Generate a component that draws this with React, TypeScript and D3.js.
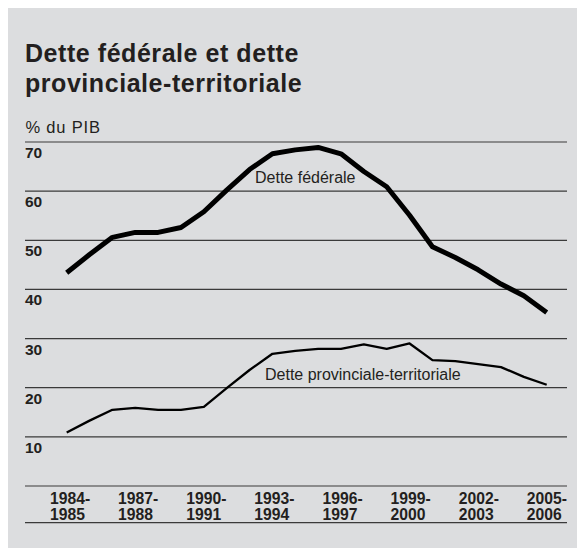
import React from "react";
import * as d3 from "d3";

const years = [
  "1984-1985","1985-1986","1986-1987","1987-1988","1988-1989","1989-1990","1990-1991",
  "1991-1992","1992-1993","1993-1994","1994-1995","1995-1996","1996-1997","1997-1998",
  "1998-1999","1999-2000","2000-2001","2001-2002","2002-2003","2003-2004","2004-2005","2005-2006",
];
const federal = [43.4, 47.1, 50.6, 51.6, 51.6, 52.6, 55.8, 60.2, 64.4, 67.6, 68.4, 68.9, 67.6, 64.0, 60.9, 55.1, 48.7, 46.5, 44.0, 41.1, 38.7, 35.3];
const provincial = [10.9, 13.3, 15.5, 15.9, 15.5, 15.5, 16.1, 19.9, 23.6, 26.9, 27.5, 27.9, 27.9, 28.8, 27.9, 29.0, 25.6, 25.4, 24.8, 24.2, 22.2, 20.6];
const yTicks = [70, 60, 50, 40, 30, 20, 10];
const gridValues = [70, 60, 50, 40, 30, 20, 10, 0];
const xLabelIdx = [0, 3, 6, 9, 12, 15, 18, 21];
const titleLines = ["Dette fédérale et dette", "provinciale-territoriale"];
const unitLabel = "% du PIB";
const seriesLabels = ["Dette fédérale", "Dette provinciale-territoriale"];

const FONT = "'Liberation Sans', Arial, Helvetica, sans-serif";
const INK = "#231f20";

export default function App() {
  const W = 577, H = 548;
  const x = d3.scaleLinear().domain([0, years.length - 1]).range([66.7, 546.7]);
  const y = d3.scaleLinear().domain([0, 70]).range([486, 142]);
  const line = d3.line<number>().x((_, i) => x(i)).y((d) => y(d)).curve(d3.curveLinear);
  const gridX0 = 25, gridX1 = 567;

  return (
    <svg width={W} height={H} style={{ position: "absolute", left: 0, top: 0 }} fontFamily={FONT}>
      <rect x={8} y={8} width={W - 8} height={H - 8} fill="#dcdddf" />
      {titleLines.map((t, i) => (
        <text key={t} x={25} y={62.3 + i * 29.4} fontSize={25} fontWeight="bold" fill={INK} letterSpacing={0.55}>
          {t}
        </text>
      ))}
      <text x={25.5} y={133.3} fontSize={16.5} fill={INK} letterSpacing={0.8}>{unitLabel}</text>
      {gridValues.map((v) => (
        <line key={v} x1={gridX0} x2={gridX1} y1={y(v)} y2={y(v)} stroke="#3a3a3a" strokeWidth={1.2} />
      ))}
      <line x1={gridX0} x2={gridX1} y1={522.7} y2={522.7} stroke="#3a3a3a" strokeWidth={1.2} />
      {yTicks.map((v) => (
        <text key={v} x={25} y={y(v) + 16} fontSize={15.5} fontWeight="bold" fill={INK}>{v}</text>
      ))}
      {xLabelIdx.map((i, k) => {
        const [a, b] = years[i].split("-");
        const lx = x(i) - 16.7 - k * 0.45;
        return (
          <text key={i} fontSize={15.7} fontWeight="bold" fill={INK}>
            <tspan x={lx} y={504}>{a}-</tspan>
            <tspan x={lx} y={519.5}>{b}</tspan>
          </text>
        );
      })}
      <path d={line(provincial) || ""} fill="none" stroke="#000" strokeWidth={2.3} strokeLinejoin="round" />
      <path d={line(federal) || ""} fill="none" stroke="#000" strokeWidth={5} strokeLinejoin="round" />
      <text x={255} y={183.3} fontSize={16} fill={INK}>{seriesLabels[0]}</text>
      <text x={265} y={380} fontSize={16} fill={INK}>{seriesLabels[1]}</text>
    </svg>
  );
}
